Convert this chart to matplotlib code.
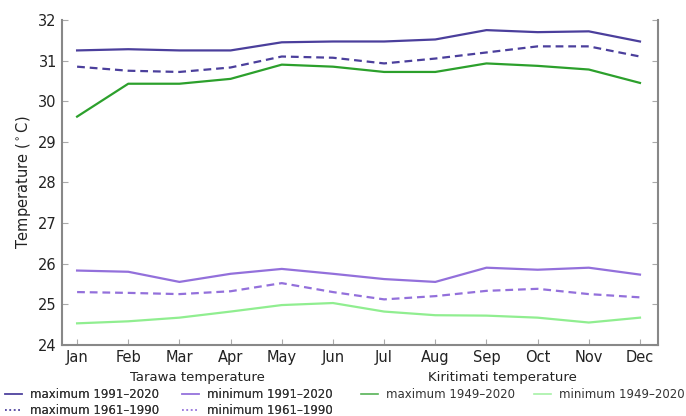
import matplotlib
matplotlib.use("Agg")
import matplotlib.pyplot as plt
from matplotlib.lines import Line2D

months = ["Jan", "Feb", "Mar", "Apr", "May", "Jun", "Jul", "Aug", "Sep", "Oct", "Nov", "Dec"]
tarawa_max_1991 = [31.25, 31.28, 31.25, 31.25, 31.45, 31.47, 31.47, 31.52, 31.75, 31.70, 31.72, 31.47]
tarawa_max_1961 = [30.85, 30.75, 30.72, 30.83, 31.10, 31.07, 30.93, 31.05, 31.20, 31.35, 31.35, 31.10]
tarawa_min_1991 = [25.83, 25.80, 25.55, 25.75, 25.87, 25.75, 25.62, 25.55, 25.90, 25.85, 25.90, 25.73]
tarawa_min_1961 = [25.30, 25.28, 25.25, 25.32, 25.52, 25.30, 25.12, 25.20, 25.33, 25.38, 25.25, 25.17]
kiri_max = [29.62, 30.43, 30.43, 30.55, 30.90, 30.85, 30.72, 30.72, 30.93, 30.87, 30.78, 30.45]
kiri_min = [24.53, 24.58, 24.67, 24.82, 24.98, 25.03, 24.82, 24.73, 24.72, 24.67, 24.55, 24.67]

c_dark = "#4b3f9c"
c_light = "#9370db"
c_green = "#2ca02c"
c_lgreen = "#90ee90"

fig = plt.figure(figsize=(6.86, 4.16), dpi=100)
ax = fig.add_axes([0.090, 0.171, 0.869, 0.781])
x = list(range(len(months)))
lw = 1.6
dash = (3.5, 2.2)
ax.plot(x, tarawa_max_1991, color=c_dark, lw=lw)
ax.plot(x, tarawa_max_1961, color=c_dark, lw=lw, ls=(0, dash))
ax.plot(x, kiri_max, color=c_green, lw=lw)
ax.plot(x, tarawa_min_1991, color=c_light, lw=lw)
ax.plot(x, tarawa_min_1961, color=c_light, lw=lw, ls=(0, dash))
ax.plot(x, kiri_min, color=c_lgreen, lw=lw)

ax.set_xlim(-0.3, 11.35)
ax.set_ylim(24, 32)
ax.set_xticks(x)
ax.set_xticklabels(months)
ax.set_yticks(range(24, 33))
ax.set_ylabel("Temperature ($^\\circ$C)", fontsize=10.5, color="#222222")
for s in ["left", "right", "bottom"]:
    ax.spines[s].set_color("#888888")
    ax.spines[s].set_linewidth(1.5)
ax.spines["top"].set_visible(False)
ax.tick_params(direction="in", length=4, color="#aaaaaa", labelsize=10.5,
               labelcolor="#222222", right=True, top=False)

# legends
def h(c, ls="-"):
    return Line2D([], [], color=c, lw=1.2, ls=ls, alpha=0.8)

lkw = dict(loc="upper left", frameon=False, fontsize=8.5, handlelength=1.45,
           handletextpad=0.7, labelspacing=0.25,
           borderaxespad=0, borderpad=0, labelcolor="#333333")
leg1 = fig.legend([h(c_dark), h(c_dark, ":"), h(c_light), h(c_light, ":")],
                  ["maximum 1991–2020", "maximum 1961–1990", "minimum 1991–2020", "minimum 1961–1990"],
                  ncol=2, bbox_to_anchor=(0.007, 0.068), columnspacing=1.9, **lkw)
fig.add_artist(leg1)
leg2 = fig.legend([h(c_green), h(c_lgreen)],
                  ["maximum 1949–2020", "minimum 1949–2020"],
                  ncol=2, bbox_to_anchor=(0.526, 0.068), columnspacing=1.55, **lkw)
fig.text(0.288, 0.093, "Tarawa temperature", ha="center", va="center", fontsize=9.5, color="#222222")
fig.text(0.733, 0.093, "Kiritimati temperature", ha="center", va="center", fontsize=9.5, color="#222222")

fig.savefig("out.png", dpi=100)
